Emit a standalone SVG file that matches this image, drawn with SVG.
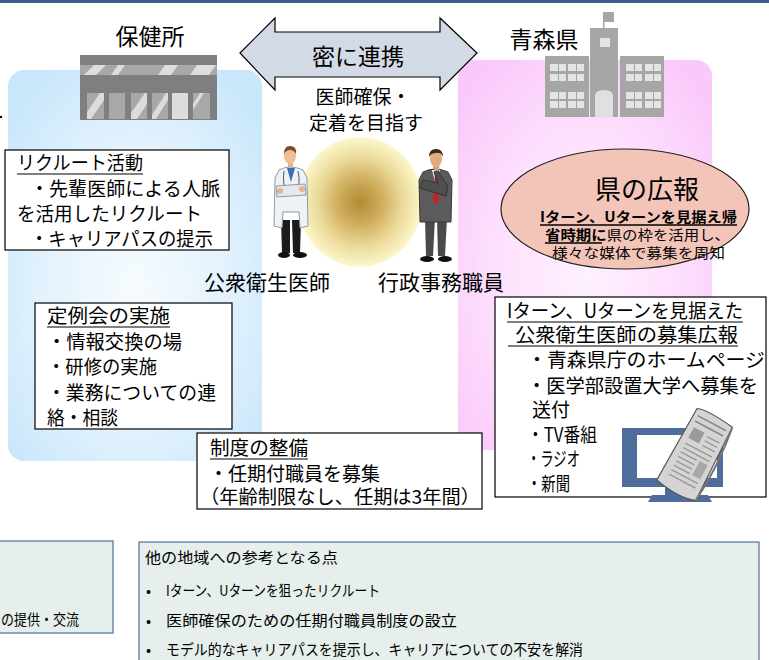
<svg xmlns="http://www.w3.org/2000/svg" width="769" height="660" viewBox="0 0 769 660">
  <defs>
    <radialGradient id="gBlue" cx="50%" cy="55%" r="65%">
      <stop offset="0" stop-color="#f6fbfe"/>
      <stop offset="0.55" stop-color="#e3f2fd"/>
      <stop offset="1" stop-color="#c9e7fb"/>
    </radialGradient>
    <radialGradient id="gPink" cx="50%" cy="55%" r="65%">
      <stop offset="0" stop-color="#fef1fe"/>
      <stop offset="0.55" stop-color="#fde0fd"/>
      <stop offset="1" stop-color="#fac9fa"/>
    </radialGradient>
    <radialGradient id="gGlow" cx="50%" cy="50%" r="50%">
      <stop offset="0" stop-color="#b38a34"/>
      <stop offset="0.35" stop-color="#cfae5e"/>
      <stop offset="0.7" stop-color="#ecdc9c"/>
      <stop offset="1" stop-color="#fdf7cc"/>
    </radialGradient>
    <style>
      text { font-family: "Noto Sans CJK JP", "Noto Sans", sans-serif; fill: #000; }
      .t19 { font-size: 19px; }
      .t20 { font-size: 19.5px; }
      .small { font-size: 15px; }
      .box { fill: #fff; stroke: #000; stroke-width: 1.2; }
      .ul { stroke: #000; stroke-width: 1.2; }
      .note { fill: #e6efec; stroke: #4f6f9d; stroke-width: 1.2; }
      .bldg { fill: #a6a6a6; }
      .win { fill: #e4e4e4; }
    </style>
  </defs>

  <!-- header band -->
  <rect x="0" y="0" width="769" height="3" fill="#3b5b8c"/>
  <circle cx="1" cy="117" r="1.2" fill="#000"/>

  <!-- background panels -->
  <rect id="panel-hokenjo" x="8" y="70" width="254" height="391" rx="16" fill="url(#gBlue)"/>
  <rect id="panel-aomori" x="458" y="60" width="254" height="390" rx="16" fill="url(#gPink)"/>

  <!-- health center title and building -->
  <g id="hokenjo">
    <text x="150" y="45" font-size="23" text-anchor="middle">保健所</text>
    <rect x="80" y="55" width="137" height="10" fill="#7f7f7f"/>
    <rect x="80" y="65" width="137" height="10" fill="#a8a8a8"/>
    <polygon points="84,75 94,65 106,65 96,75" fill="#dedede"/>
    <polygon points="111,75 118,65 125,65 118,75" fill="#dedede"/>
    <polygon points="158,75 165,65 178,65 171,75" fill="#dedede"/>
    <polygon points="190,75 197,65 216,65 209,75" fill="#dedede"/>
    <rect x="80" y="75" width="137" height="45" fill="#7f7f7f"/>
    <g>
      <rect x="87" y="93" width="17" height="26" fill="#a8a8a8"/>
      <polygon points="87,119 87,112 100,93 104,93 104,100 91,119" fill="#dcdcdc"/>
      <rect x="109" y="93" width="16" height="26" fill="#a8a8a8"/>
      <rect x="131" y="93" width="16" height="26" fill="#a8a8a8"/>
      <polygon points="131,119 131,113 145,93 147,93 147,104 137,119" fill="#dcdcdc"/>
      <rect x="152" y="93" width="16" height="26" fill="#a8a8a8"/>
      <polygon points="152,115 166,93 168,93 168,100 156,119 152,119" fill="#dcdcdc"/>
      <rect x="172" y="93" width="16" height="26" fill="#dcdcdc"/>
      <rect x="193" y="93" width="17" height="26" fill="#a8a8a8"/>
      <polygon points="193,104 200,93 204,93 193,110" fill="#dcdcdc"/>
    </g>
  </g>

  <!-- prefecture title and office building -->
  <g id="aomori">
    <text x="544" y="48" font-size="23" text-anchor="middle">青森県</text>
    <rect x="603" y="12" width="1.5" height="17" fill="#a6a6a6"/>
    <rect x="603" y="12" width="11" height="10" fill="#a6a6a6"/>
    <rect class="bldg" x="590" y="28" width="28" height="89"/>
    <rect class="win" x="600" y="38" width="10" height="9"/>
    <path d="M595,117 L595,96 Q595,90 604,90 Q613,90 613,96 L613,117 Z" fill="#e0e0e0"/>
    <rect class="bldg" x="545" y="56" width="44" height="61"/>
    <rect class="bldg" x="620" y="56" width="44" height="61"/>
    <g class="win">
      <rect x="550" y="64" width="8" height="7"/><rect x="559" y="64" width="7" height="7"/>
      <rect x="568" y="64" width="8" height="7"/><rect x="577" y="64" width="7" height="7"/>
      <rect x="550" y="74" width="8" height="7"/><rect x="559" y="74" width="7" height="7"/>
      <rect x="568" y="74" width="8" height="7"/><rect x="577" y="74" width="7" height="7"/>
      <rect x="550" y="92" width="8" height="7"/><rect x="559" y="92" width="7" height="7"/>
      <rect x="568" y="92" width="8" height="7"/><rect x="577" y="92" width="7" height="7"/>
      <rect x="550" y="101" width="8" height="7"/><rect x="559" y="101" width="7" height="7"/>
      <rect x="568" y="101" width="8" height="7"/><rect x="577" y="101" width="7" height="7"/>
      <rect x="626" y="64" width="8" height="7"/><rect x="635" y="64" width="7" height="7"/>
      <rect x="645" y="64" width="8" height="7"/><rect x="654" y="64" width="7" height="7"/>
      <rect x="626" y="74" width="8" height="7"/><rect x="635" y="74" width="7" height="7"/>
      <rect x="645" y="74" width="8" height="7"/><rect x="654" y="74" width="7" height="7"/>
      <rect x="626" y="92" width="8" height="7"/><rect x="635" y="92" width="7" height="7"/>
      <rect x="645" y="92" width="8" height="7"/><rect x="654" y="92" width="7" height="7"/>
      <rect x="626" y="101" width="8" height="7"/><rect x="635" y="101" width="7" height="7"/>
      <rect x="645" y="101" width="8" height="7"/><rect x="654" y="101" width="7" height="7"/>
    </g>
  </g>

  <!-- two-way cooperation arrow -->
  <g id="connectors">
    <path d="M240,53 L275,18 L275,32 L440,32 L440,18 L477,53 L440,90 L440,77 L275,77 L275,90 Z" fill="#d2dae5" stroke="#000" stroke-width="1.2" stroke-linejoin="miter"/>
    <text x="358" y="65" font-size="23" text-anchor="middle">密に連携</text>
  </g>

  <!-- shared goal and people -->
  <g id="goal">
    <text x="363" y="104" class="t19" text-anchor="middle">医師確保・</text>
    <text x="366" y="130" class="t19" text-anchor="middle">定着を目指す</text>
    <ellipse cx="360" cy="202" rx="62" ry="65" fill="url(#gGlow)"/>
  </g>

  <g id="doctor">
    <!-- legs and shoes -->
    <path d="M281,220 L290,220 L290,253 L282,253 Z" fill="#1b1b1b"/>
    <path d="M292,220 L301,220 L300,253 L293,253 Z" fill="#1b1b1b"/>
    <ellipse cx="284" cy="255" rx="6" ry="3" fill="#111"/>
    <ellipse cx="300" cy="255" rx="7" ry="3" fill="#111"/>
    <!-- coat -->
    <path d="M279,170 Q290,164 303,170 L307,178 L308,226 L300,228 L299,212 L283,212 L282,228 L274,226 L275,178 Z" fill="#eef2f6" stroke="#8d9aa8" stroke-width="1"/>
    <path d="M287,168 L291,182 L295,168 Z" fill="#3c6fb0"/>
    <path d="M284,171 Q282,184 287,192 M298,171 Q301,184 296,192" fill="none" stroke="#555" stroke-width="1"/>
    <!-- crossed arms -->
    <path d="M276,186 L305,184 L306,195 L277,197 Z" fill="#e4e9ee" stroke="#8d9aa8" stroke-width="1"/>
    <ellipse cx="280" cy="191" rx="3" ry="3" fill="#e6b48a"/>
    <ellipse cx="302" cy="189" rx="3" ry="3" fill="#e6b48a"/>
    <!-- head -->
    <rect x="288" y="160" width="5" height="7" fill="#e6b48a"/>
    <ellipse cx="290" cy="156" rx="6" ry="8" fill="#edbf92"/>
    <path d="M284,154 Q284,146 290,146 Q297,146 296,154 Q294,150 290,150 Q286,150 284,154 Z" fill="#7a4a28"/>
  </g>

  <g id="official">
    <!-- legs and shoes -->
    <path d="M425,218 L435,218 L433,256 L426,256 Z" fill="#4a4a4a"/>
    <path d="M437,218 L447,218 L445,256 L438,256 Z" fill="#4a4a4a"/>
    <ellipse cx="427" cy="259" rx="7" ry="3" fill="#111"/>
    <ellipse cx="445" cy="259" rx="7" ry="3" fill="#111"/>
    <!-- suit -->
    <path d="M423,172 Q435,166 448,172 L452,180 L451,222 L420,222 L419,180 Z" fill="#5b5b5b" stroke="#3a3a3a" stroke-width="1"/>
    <path d="M432,170 L436,186 L440,170 Z" fill="#f0f0f0"/>
    <path d="M435,173 L437,173 L439,200 L436,205 L433,200 Z" fill="#c8202a"/>
    <!-- arm raised to chin -->
    <path d="M420,188 L446,196 L448,186 L441,176 L438,170 L434,172 L438,183 L423,180 Z" fill="#4f4f4f" stroke="#333" stroke-width="1"/>
    <ellipse cx="437" cy="168" rx="2.6" ry="3" fill="#d9a57c"/>
    <!-- head -->
    <rect x="433" y="163" width="5" height="6" fill="#d9a57c"/>
    <ellipse cx="436" cy="159" rx="6" ry="8" fill="#e0ac82"/>
    <path d="M429,157 Q429,149 436,149 Q443,149 443,157 Q441,152 436,153 Q431,153 429,157 Z" fill="#3a2a1e"/>
  </g>

  <text x="267" y="290" font-size="21" text-anchor="middle">公衆衛生医師</text>
  <text x="441" y="290" font-size="21" text-anchor="middle">行政事務職員</text>

  <!-- recruiting box -->
  <g id="recruit">
    <rect class="box" x="5" y="150" width="224" height="100"/>
    <text class="t19" x="17" y="170" textLength="126" lengthAdjust="spacingAndGlyphs">リクルート活動</text>
    <line class="ul" x1="17" y1="174" x2="143" y2="174"/>
    <text class="t19" x="30" y="196" textLength="190" lengthAdjust="spacingAndGlyphs">・先輩医師による人脈</text>
    <text class="t19" x="17" y="221" textLength="185" lengthAdjust="spacingAndGlyphs">を活用したリクルート</text>
    <text class="t19" x="30" y="246" textLength="183" lengthAdjust="spacingAndGlyphs">・キャリアパスの提示</text>
  </g>

  <!-- regular meeting box -->
  <g id="meeting">
    <rect class="box" x="35" y="303" width="197" height="126"/>
    <text class="t19" x="47" y="323" textLength="123" lengthAdjust="spacingAndGlyphs">定例会の実施</text>
    <line class="ul" x1="47" y1="327" x2="170" y2="327"/>
    <text class="t19" x="47" y="349" textLength="135" lengthAdjust="spacingAndGlyphs">・情報交換の場</text>
    <text class="t19" x="47" y="374" textLength="110" lengthAdjust="spacingAndGlyphs">・研修の実施</text>
    <text class="t19" x="47" y="400" textLength="169" lengthAdjust="spacingAndGlyphs">・業務についての連</text>
    <text class="t19" x="47" y="425" textLength="71" lengthAdjust="spacingAndGlyphs">絡・相談</text>
  </g>

  <!-- system box -->
  <g id="system">
    <rect class="box" x="197" y="433" width="285" height="76"/>
    <text class="t19" x="210" y="455" textLength="98" lengthAdjust="spacingAndGlyphs">制度の整備</text>
    <line class="ul" x1="210" y1="459" x2="308" y2="459"/>
    <text class="t19" x="209" y="481" textLength="171" lengthAdjust="spacingAndGlyphs">・任期付職員を募集</text>
    <text class="t19" x="200" y="504" textLength="280" lengthAdjust="spacingAndGlyphs">（年齢制限なし、任期は3年間）</text>
  </g>

  <!-- prefecture publicity ellipse -->
  <g id="publicity">
    <ellipse cx="625" cy="209" rx="124" ry="60" fill="#f3c5b8" stroke="#222" stroke-width="1.2"/>
    <text x="647" y="199" font-size="26" text-anchor="middle">県の広報</text>
    <text x="540" y="222" font-size="14" font-weight="bold" textLength="197" lengthAdjust="spacingAndGlyphs">Iターン、Uターンを見据え帰</text>
    <line x1="540" y1="225" x2="737" y2="225" stroke="#000" stroke-width="1.3"/>
    <text x="545" y="240" font-size="14" textLength="185" lengthAdjust="spacingAndGlyphs"><tspan font-weight="bold">省時期に</tspan>県の枠を活用し、</text>
    <line x1="545" y1="243" x2="602" y2="243" stroke="#000" stroke-width="1.3"/>
    <text x="552" y="258" font-size="14" textLength="173" lengthAdjust="spacingAndGlyphs">様々な媒体で募集を周知</text>
  </g>

  <!-- recruitment publicity box -->
  <g id="media">
    <rect class="box" x="495" y="297" width="271" height="200"/>
    <text class="t20" x="507" y="318" textLength="236" lengthAdjust="spacingAndGlyphs">Iターン、Uターンを見据えた</text>
    <line class="ul" x1="507" y1="322" x2="743" y2="322"/>
    <text class="t20" x="515" y="342" textLength="223" lengthAdjust="spacingAndGlyphs">公衆衛生医師の募集広報</text>
    <line class="ul" x1="508" y1="346" x2="738" y2="346"/>
    <text class="t20" x="527" y="367" textLength="238" lengthAdjust="spacingAndGlyphs">・青森県庁のホームページ</text>
    <text class="t20" x="527" y="393" textLength="231" lengthAdjust="spacingAndGlyphs">・医学部設置大学へ募集を</text>
    <text class="t20" x="532" y="417" textLength="38" lengthAdjust="spacingAndGlyphs">送付</text>
    <text class="t20" x="527" y="442" textLength="70" lengthAdjust="spacingAndGlyphs">・TV番組</text>
    <text class="t20" x="527" y="466" textLength="53" lengthAdjust="spacingAndGlyphs">・ラジオ</text>
    <text class="t20" x="527" y="491" textLength="43" lengthAdjust="spacingAndGlyphs">・新聞</text>

    <!-- monitor -->
    <rect x="622" y="428" width="101" height="59" fill="#4e6d9c"/>
    <rect x="637" y="435" width="80" height="43" fill="#fff"/>
    <rect x="665" y="487" width="22" height="8" fill="#4e6d9c"/>
    <path d="M648,502 L652,495 L708,495 L712,502 Z" fill="#4e6d9c"/>
    <!-- newspaper -->
    <g transform="translate(695,455) rotate(28)">
      <path d="M-20,-42 Q-10,-46 20,-42 L22,40 Q5,46 -22,40 Z" fill="#d4d4d4" stroke="#555" stroke-width="1.2"/>
      <path d="M-16,-36 L16,-36 M-16,-30 L16,-30" stroke="#888" stroke-width="1.5"/>
      <rect x="-14" y="-24" width="12" height="12" fill="#9a9a9a"/>
      <path d="M2,-22 L16,-22 M2,-17 L16,-17 M2,-12 L16,-12 M-14,-6 L16,-6 M-14,-1 L16,-1 M-14,4 L4,4 M-14,9 L4,9 M-14,14 L4,14 M-14,19 L4,19 M-14,24 L16,24 M-14,29 L16,29" stroke="#999" stroke-width="1.4"/>
      <rect x="7" y="3" width="9" height="16" fill="#a8a8a8"/>
      <path d="M20,-42 Q26,0 22,40" fill="none" stroke="#777" stroke-width="2"/>
    </g>
  </g>

  <!-- summary notes -->
  <g id="note-left">
    <rect class="note" x="-5" y="541" width="118" height="92"/>
    <text class="small" x="1" y="625" font-size="16" textLength="78" lengthAdjust="spacingAndGlyphs">の提供・交流</text>
  </g>
  <g id="note-right">
    <rect class="note" x="139" y="542" width="620" height="130"/>
    <text class="small" x="145" y="563" textLength="193" lengthAdjust="spacingAndGlyphs">他の地域への参考となる点</text>
    <text class="small" x="146" y="596">•</text>
    <text class="small" x="166" y="596" textLength="214" lengthAdjust="spacingAndGlyphs">Iターン、Uターンを狙ったリクルート</text>
    <text class="small" x="146" y="626">•</text>
    <text class="small" x="166" y="626" textLength="291" lengthAdjust="spacingAndGlyphs">医師確保のための任期付職員制度の設立</text>
    <text class="small" x="146" y="655">•</text>
    <text class="small" x="166" y="655" textLength="417" lengthAdjust="spacingAndGlyphs">モデル的なキャリアパスを提示し、キャリアについての不安を解消</text>
  </g>
</svg>
